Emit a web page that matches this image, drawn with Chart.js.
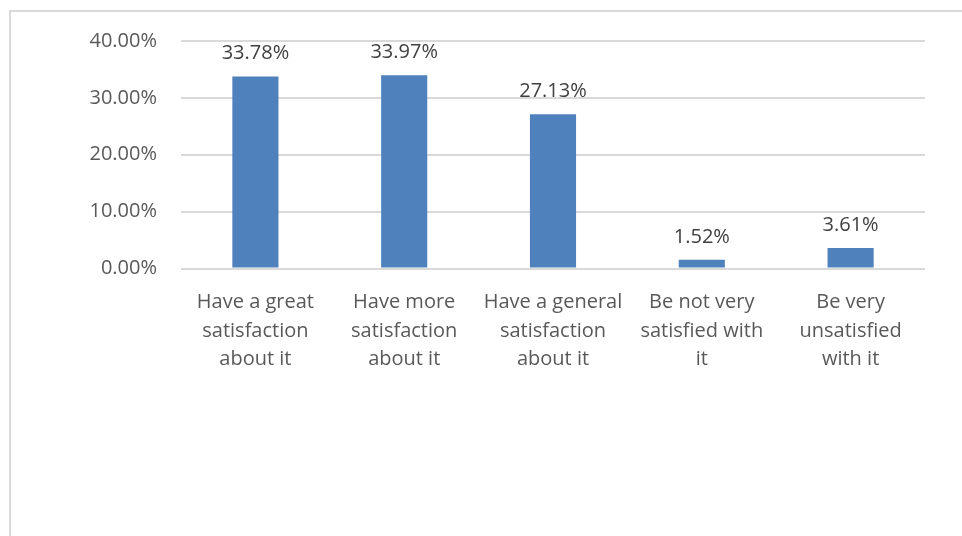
<!DOCTYPE html>
<html>
<head>
<meta charset="utf-8">
<script src="https://cdn.jsdelivr.net/npm/chart.js@4"></script>
<style>
  html, body { margin: 0; padding: 0; background: #fff; }
  #wrap { position: relative; width: 962px; height: 536px; }
</style>
</head>
<body>
<div id="wrap"><canvas id="myChart" width="962" height="536"></canvas></div>
<script>
const categorias = [
    ['Have a great', 'satisfaction', 'about it'],
    ['Have more', 'satisfaction', 'about it'],
    ['Have a general', 'satisfaction', 'about it'],
    ['Be not very', 'satisfied with', 'it'],
    ['Be very', 'unsatisfied', 'with it']
];
const valores = [33.78, 33.97, 27.13, 1.52, 3.61];
const ticksY = [0, 10, 20, 30, 40];

const fonte = "'Open Sans', sans-serif";

// moldura cinza do grafico (cortada a direita e embaixo)
const moldura = {
    id: 'moldura',
    beforeDraw(chart) {
        const c = chart.ctx;
        c.save();
        c.strokeStyle = '#d9d9d9';
        c.lineWidth = 2;
        c.strokeRect(10, 11, 1000, 600);
        c.restore();
    }
};

// rotulos de valor em cima das barras
const rotulos = {
    id: 'rotulos',
    afterDatasetsDraw(chart) {
        const c = chart.ctx;
        const meta = chart.getDatasetMeta(0);
        c.save();
        c.font = '20px ' + fonte;
        c.fillStyle = '#404040';
        c.textAlign = 'center';
        c.textBaseline = 'alphabetic';
        meta.data.forEach((bar, i) => {
            c.fillText(valores[i].toFixed(2) + '%', bar.x, bar.y - 17);
        });
        c.restore();
    }
};

const ctx = document.getElementById('myChart').getContext('2d');

const chart = new Chart(ctx, {
    type: 'bar',
    data: {
        labels: categorias,
        datasets: [{
            data: valores,
            backgroundColor: '#4f81bd',
            borderWidth: 0,
            barPercentage: 0.31,
            categoryPercentage: 1
        }]
    },
    options: {
        responsive: false,
        animation: false,
        layout: { padding: { left: 0, right: 37, top: 41, bottom: 0 } },
        plugins: {
            legend: { display: false },
            tooltip: { enabled: false }
        },
        scales: {
            x: {
                grid: { display: false },
                border: { display: false },
                ticks: {
                    color: '#595959',
                    font: { family: fonte, size: 20, lineHeight: 1.425 },
                    padding: 12,
                    maxRotation: 0,
                    autoSkip: false
                },
                afterFit(scale) { scale.height = 267.5; }
            },
            y: {
                min: 0,
                max: 40,
                afterBuildTicks(scale) {
                    scale.ticks = ticksY.map(v => ({ value: v }));
                },
                grid: { color: '#d9d9d9', lineWidth: 2, drawTicks: false },
                border: { display: false },
                ticks: {
                    color: '#595959',
                    font: { family: fonte, size: 20 },
                    padding: 24,
                    callback: v => v.toFixed(2) + '%'
                },
                afterFit(scale) { scale.width = 181; }
            }
        }
    },
    plugins: [moldura, rotulos]
});
</script>
</body>
</html>
